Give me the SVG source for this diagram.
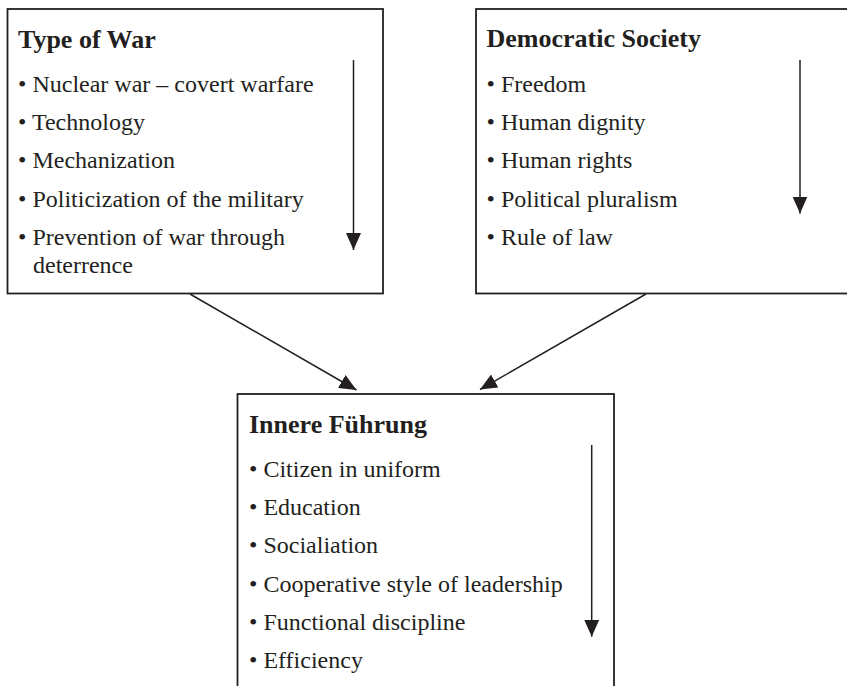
<svg xmlns="http://www.w3.org/2000/svg" width="847" height="686" viewBox="0 0 847 686">
<defs>
<style>
.box{fill:#fff;stroke:#231f20;stroke-width:1.8}
.ln{stroke:#231f20;stroke-width:1.5;fill:none}
.t{font-family:"Liberation Serif","Times New Roman",serif;fill:#231f20}
.h{font-size:26px;font-weight:bold}
.i{font-size:24px}
</style>
<marker id="ah" viewBox="0 0 17 15" refX="17" refY="7.5" markerWidth="17" markerHeight="15" markerUnits="userSpaceOnUse" orient="auto">
<path d="M0,0 L17,7.5 L0,15 z" fill="#231f20"/>
</marker>
</defs>
<rect width="847" height="686" fill="#fff"/>
<g id="type-of-war">
<rect class="box" x="7.5" y="9" width="375.5" height="284.5"/>
<text class="t h" x="18" y="47.5">Type of War</text>
<text class="t i" x="18" y="91.7">• Nuclear war – covert warfare</text>
<text class="t i" x="18" y="130">• Technology</text>
<text class="t i" x="18" y="168.3">• Mechanization</text>
<text class="t i" x="18" y="206.7">• Politicization of the military</text>
<text class="t i" x="18" y="244.5">• Prevention of war through</text>
<text class="t i" x="33" y="272.5">deterrence</text>
<line class="ln" x1="353.5" y1="60" x2="353.5" y2="250" marker-end="url(#ah)"/>
</g>
<g id="democratic-society">
<rect class="box" x="476" y="9" width="400" height="284.5"/>
<text class="t h" x="486.5" y="47">Democratic Society</text>
<text class="t i" x="486.5" y="91.7">• Freedom</text>
<text class="t i" x="486.5" y="130">• Human dignity</text>
<text class="t i" x="486.5" y="168.3">• Human rights</text>
<text class="t i" x="486.5" y="206.7">• Political pluralism</text>
<text class="t i" x="486.5" y="245">• Rule of law</text>
<line class="ln" x1="800" y1="60" x2="800" y2="213.5" marker-end="url(#ah)"/>
</g>
<g id="innere-fuehrung">
<rect class="box" x="237.5" y="394" width="376.5" height="320"/>
<text class="t h" x="249" y="432.5">Innere Führung</text>
<text class="t i" x="249" y="476.7">• Citizen in uniform</text>
<text class="t i" x="249" y="515">• Education</text>
<text class="t i" x="249" y="553.3">• Socialiation</text>
<text class="t i" x="249" y="591.6">• Cooperative style of leadership</text>
<text class="t i" x="249" y="629.9">• Functional discipline</text>
<text class="t i" x="249" y="668.2">• Efficiency</text>
<line class="ln" x1="591.7" y1="445" x2="591.7" y2="636.7" marker-end="url(#ah)"/>
</g>
<g id="connectors">
<line class="ln" x1="190" y1="294" x2="356.5" y2="390" marker-end="url(#ah)"/>
<line class="ln" x1="646" y1="294" x2="480" y2="389.5" marker-end="url(#ah)"/>
</g>
</svg>
